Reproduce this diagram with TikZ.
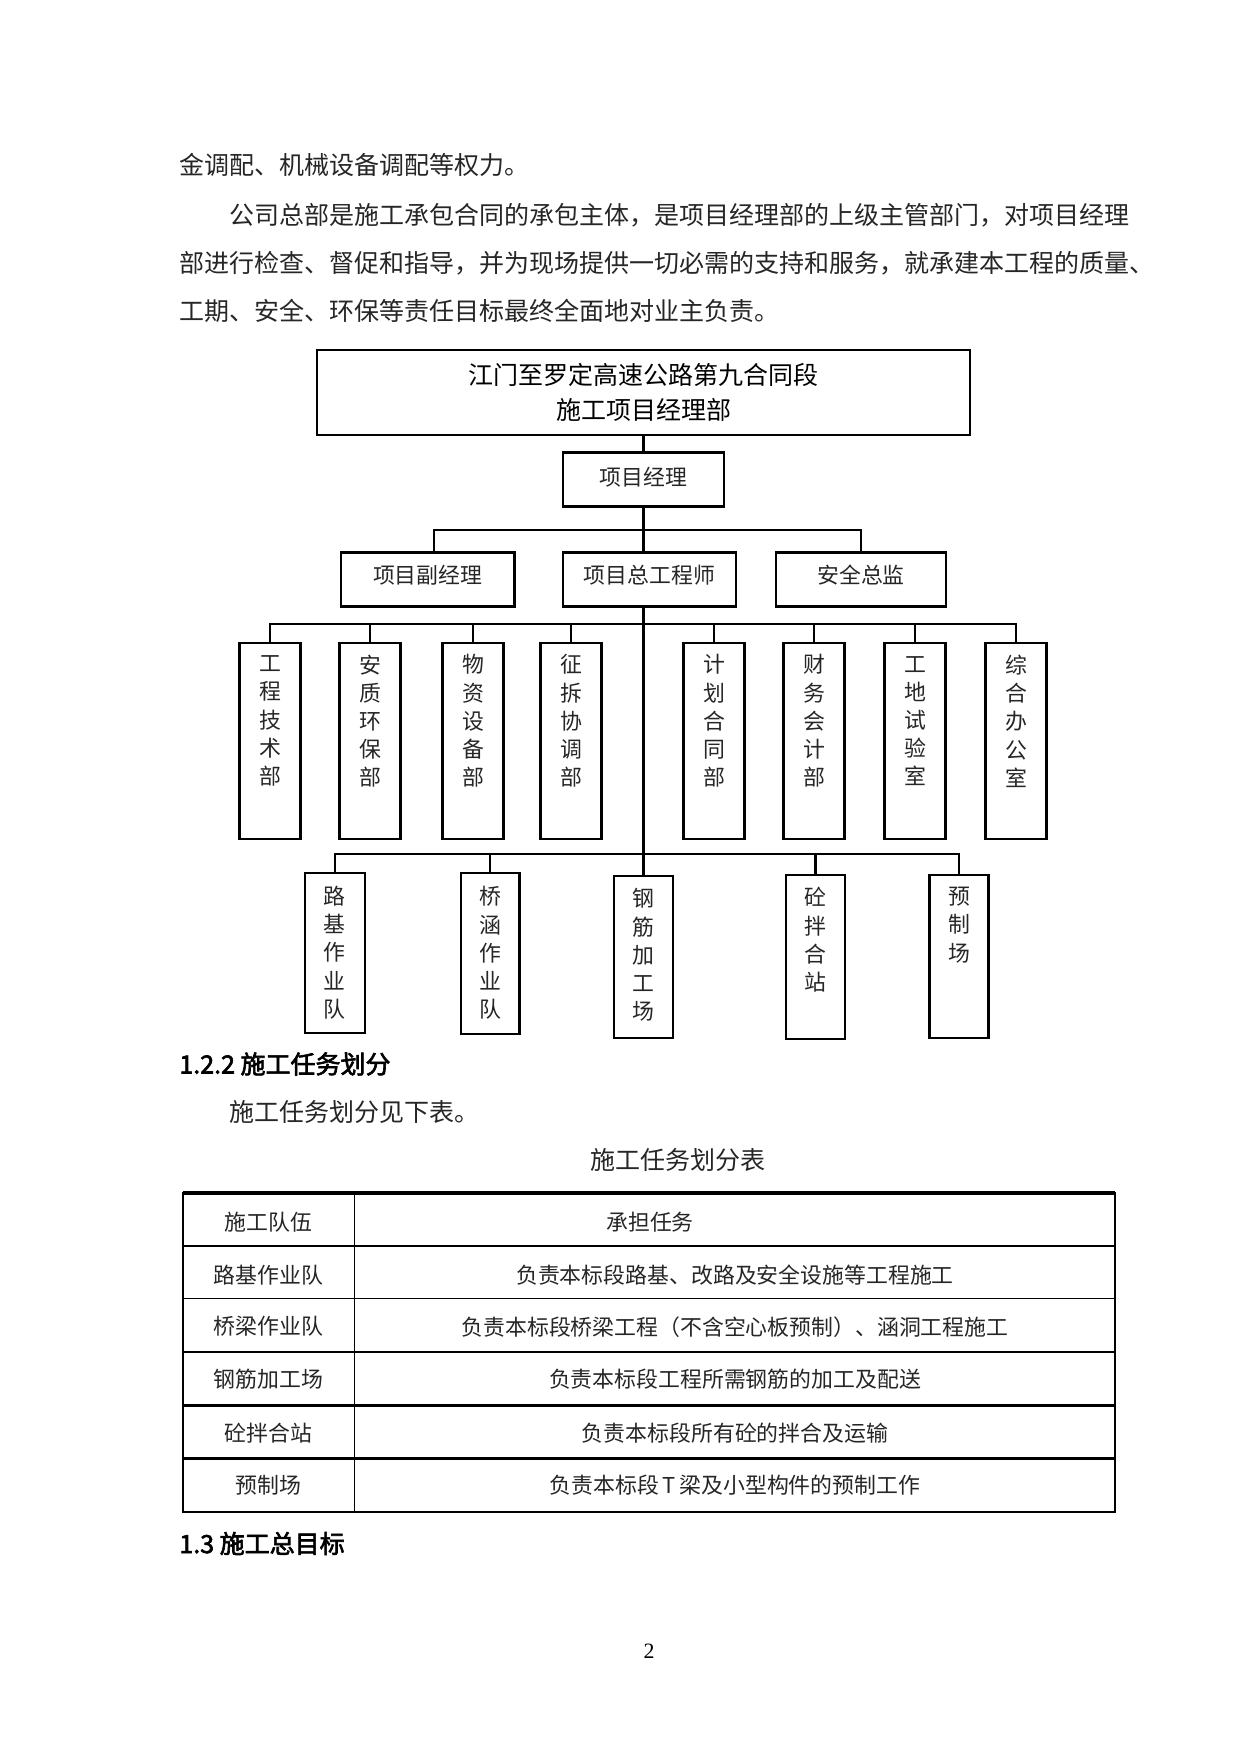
\documentclass[tikz,border=0pt]{standalone}
\usepackage{fontspec}
\setmainfont{Noto Sans CJK SC}
\newfontfamily\hbold[FakeBold=2.5]{Noto Sans CJK SC}
\newfontfamily\pnumfont{Liberation Serif}
\newdimen\pxu \pxu=0.48bp
\makeatletter
\newcommand\spreadline[2]{\hbox to #1{\@tfor\sp@c:=#2\do{\sp@c\hfill}\unskip}}
\makeatother
\colorlet{txt}{black!85}
\tikzset{
  body/.style={inner sep=0, anchor=west, text=txt, font=\fontsize{12bp}{14bp}\selectfont},
  head/.style={inner sep=0, anchor=west, font=\fontsize{12bp}{14bp}\hbold},
  boxed/.style={draw, line width=1.2bp, inner sep=0},
  hbox/.style={boxed, minimum height=54.4\pxu, text=txt, font=\fontsize{10.5bp}{12bp}\selectfont, text height=0.88em, text depth=0.53em},
  vbox/.style={boxed, minimum width=60\pxu},
  vtext/.style={inner sep=0, align=center, text=txt, font=\fontsize{10.5bp}{13.55bp}\selectfont},
  conn/.style={line width=1.1bp},
  cell/.style={inner sep=0, text=txt, font=\fontsize{10.5bp}{12bp}\selectfont},
  thin/.style={line width=0.5bp},
  mid/.style={line width=0.9bp},
  thick/.style={line width=1.3bp}
}
\begin{document}
\begin{tikzpicture}[x=0.48bp,y=-0.48bp]
\useasboundingbox[fill=white] (0,0) rectangle (1241,1755);

% paragraph text
\node[body] (p1) at (179,165) {金调配、机械设备调配等权力。};
\node[body] (p2) at (229,215) {\spreadline{893\pxu}{公司总部是施工承包合同的承包主体，是项目经理部的上级主管部门，对项目经理}};
\node[body] (p3) at (179,263) {\spreadline{950\pxu}{部进行检查、督促和指导，并为现场提供一切必需的支持和服务，就承建本工程的质量、}};
\node[body] (p4) at (179,311) {工期、安全、环保等责任目标最终全面地对业主负责。};

% org chart
\node[boxed, align=center, minimum width=653\pxu, minimum height=85\pxu,
      font=\fontsize{12bp}{16.8bp}\selectfont] (top) at (643.5,392.5)
      {江门至罗定高速公路第九合同段\\施工项目经理部};
\node[hbox, minimum width=161.4\pxu, minimum height=54\pxu, text depth=0.35em] (pm) at (643.5,479.7) {项目经理};
\node[hbox, minimum width=173.4\pxu] (l1) at (427.7,579.5) {项目副经理};
\node[hbox, minimum width=173.1\pxu] (l2) at (649.4,579.5) {项目总工程师};
\node[hbox, minimum width=169.7\pxu] (l3) at (861,579.5) {安全总监};

\coordinate (j1) at (643.5,530);
\coordinate (j2) at (643.5,624);
\coordinate (j3) at (643.5,854);

\draw[conn] (top.south) -- (pm.north);
\draw[conn] (pm.south) -- (j1);
\draw[conn] ([xshift=6.5\pxu]l1.north) |- (j1) -| (l3.north);
\draw[conn] (j1) -- (j1 |- l2.north);

% second row
\foreach \n/\x/\t in {r1/270/{工\\程\\技\\术\\部}, r2/370/{安\\质\\环\\保\\部},
                      r3/473/{物\\资\\设\\备\\部}, r4/571/{征\\拆\\协\\调\\部},
                      r5/714/{计\\划\\合\\同\\部}, r6/814/{财\\务\\会\\计\\部},
                      r7/915/{工\\地\\试\\验\\室}, r8/1016/{综\\合\\办\\公\\室}}{
  \node[vbox, minimum width=61\pxu, minimum height=196.3\pxu] (\n) at (\x,740.9) {};
  \node[vtext] (\n t) at (\x,721.1) {\t};
}
\draw[conn] (r1.north) |- (j2) -| (r8.north);
\foreach \n in {r2,r3,r4,r5,r6,r7}{\draw[conn] (\n.north) -- (\n.north |- j2);}

% third row
\node[vbox, minimum height=160\pxu] (s1) at (334.9,953) {};
\node[vtext] (s1t) at (334.9,952.5) {路\\基\\作\\业\\队};
\node[vbox, minimum height=161\pxu, minimum width=58.5\pxu] (s2) at (490,953.5) {};
\node[vtext] (s2t) at (490,953) {桥\\涵\\作\\业\\队};
\node[vbox, minimum height=162\pxu, minimum width=59\pxu] (s3) at (643.5,957) {};
\node[vtext] (s3t) at (643.5,955) {钢\\筋\\加\\工\\场};
\node[vbox, minimum height=164\pxu, minimum width=58.7\pxu] (s4) at (815.4,957) {};
\node[vtext] (s4t) at (815.4,939.8) {砼\\拌\\合\\站};
\node[vbox, minimum height=163\pxu, minimum width=59.4\pxu] (s5) at (959,956.5) {};
\node[vtext] (s5t) at (959,925) {预\\制\\场};

\draw[conn] (j1 |- l2.south) -- (s3.north);
\draw[conn] (s1.north) |- (j3) -| (s5.north);
\foreach \n in {s2,s4}{\draw[conn] (\n.north) -- (\n.north |- j3);}

% headings and table
\node[head] (h1) at (179,1064) {1.2.2 施工任务划分};
\node[body] (p5) at (229,1112) {施工任务划分见下表。};
\node[inner sep=0, text=txt, font=\fontsize{12bp}{14bp}\selectfont] (cap) at (678,1160) {施工任务划分表};

\draw[mid] (183,1246) -- (1115,1246);
\draw[mid] (183,1298.5) -- (1115,1298.5);
\draw[mid] (183,1352) -- (1115,1352);
\draw[thick] (183,1405.5) -- (1115,1405.5);
\draw[thick] (183,1458.5) -- (1115,1458.5);
\draw[thin] (354.5,1193) -- (354.5,1512);
\draw[line width=1.4bp] (183,1193) rectangle (1115,1512);
\draw[line width=1.8bp] (183,1193) -- (1115,1193);

\node[cell] (c11) at (268.5,1222) {施工队伍};
\node[cell] (c12) at (650,1222) {承担任务};
\node[cell] (c21) at (268.5,1275) {路基作业队};
\node[cell] (c22) at (735,1275) {负责本标段路基、改路及安全设施等工程施工};
\node[cell] (c31) at (268.5,1326.7) {桥梁作业队};
\node[cell] (c32) at (735,1326.7) {负责本标段桥梁工程（不含空心板预制）、涵洞工程施工};
\node[cell] (c41) at (268.5,1379.3) {钢筋加工场};
\node[cell] (c42) at (735,1379.3) {负责本标段工程所需钢筋的加工及配送};
\node[cell] (c51) at (268.5,1432.7) {砼拌合站};
\node[cell] (c52) at (735,1432.7) {负责本标段所有砼的拌合及运输};
\node[cell] (c61) at (268.5,1485) {预制场};
\node[cell] (c62) at (735,1485) {负责本标段\,T\,梁及小型构件的预制工作};

\node[head] (h2) at (179,1543.5) {1.3 施工总目标};
\node[inner sep=0, font=\fontsize{10.5bp}{12bp}\pnumfont] (pg) at (649,1651) {2};
\end{tikzpicture}
\end{document}
